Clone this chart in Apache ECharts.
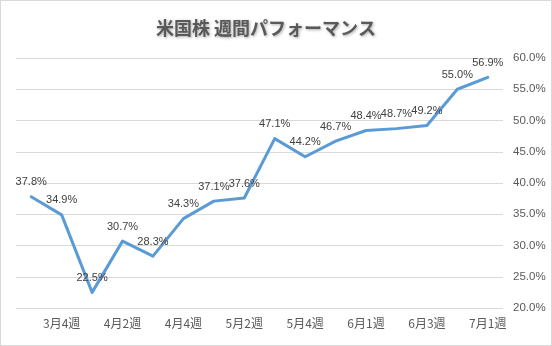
<!DOCTYPE html>
<html><head><meta charset="utf-8">
<script src="https://cdn.jsdelivr.net/npm/echarts@6/dist/echarts.min.js"></script>
<style>
html,body{margin:0;padding:0;background:#fff;}
#c{width:552px;height:346px;box-sizing:border-box;border:1px solid #d9d9d9;}
</style></head>
<body><div id="c"></div>
<script>
const categories = ['3月3週','3月4週','4月1週','4月2週','4月3週','4月4週','5月1週','5月2週','5月3週','5月4週','5月5週','6月1週','6月2週','6月3週','6月4週','7月1週'];
const performance = [37.8, 34.9, 22.5, 30.7, 28.3, 34.3, 37.1, 37.6, 47.1, 44.2, 46.7, 48.4, 48.7, 49.2, 55.0, 56.9];
const yMin = 20, yMax = 60, yStep = 5;
const titleText = '米国株 週間パフォーマンス';

const chart = echarts.init(document.getElementById('c'), null, {renderer:'canvas'});
chart.setOption({
  animation:false,
  title:{
    text:titleText, left:150, top:13,
    textStyle:{fontFamily:'Noto Sans CJK JP', fontSize:18, fontWeight:'bold', color:'#595959',
      textShadowColor:'rgba(0,0,0,0.35)', textShadowBlur:3, textShadowOffsetX:1, textShadowOffsetY:1}
  },
  grid:{left:15, right:48, top:57, bottom:37, containLabel:false},
  xAxis:{
    type:'category', data:categories, boundaryGap:true,
    axisLine:{show:false}, axisTick:{show:false},
    axisLabel:{interval:(i)=>i%2===1, color:'#595959', fontSize:12, fontFamily:'Noto Sans CJK JP', margin:9}
  },
  yAxis:{
    type:'value', position:'right', min:yMin, max:yMax, interval:yStep,
    axisLine:{show:false}, axisTick:{show:false},
    splitLine:{lineStyle:{color:'#d9d9d9', width:1}},
    axisLabel:{formatter:(v)=>v.toFixed(1)+'%', color:'#595959', fontSize:11.5, fontFamily:'Liberation Sans', margin:10}
  },
  series:[{
    type:'line', data:performance, symbol:'circle', symbolSize:2, showSymbol:true,
    lineStyle:{color:'#5b9bd5', width:3, cap:'round', join:'round'},
    itemStyle:{color:'#5b9bd5', borderWidth:0},
    labelLayout:{hideOverlap:false},
    label:{show:true, position:'top', distance:8, formatter:(p)=>p.value.toFixed(1)+'%',
      color:'#404040', fontSize:11, fontFamily:'Liberation Sans'}
  }]
});
</script></body></html>
